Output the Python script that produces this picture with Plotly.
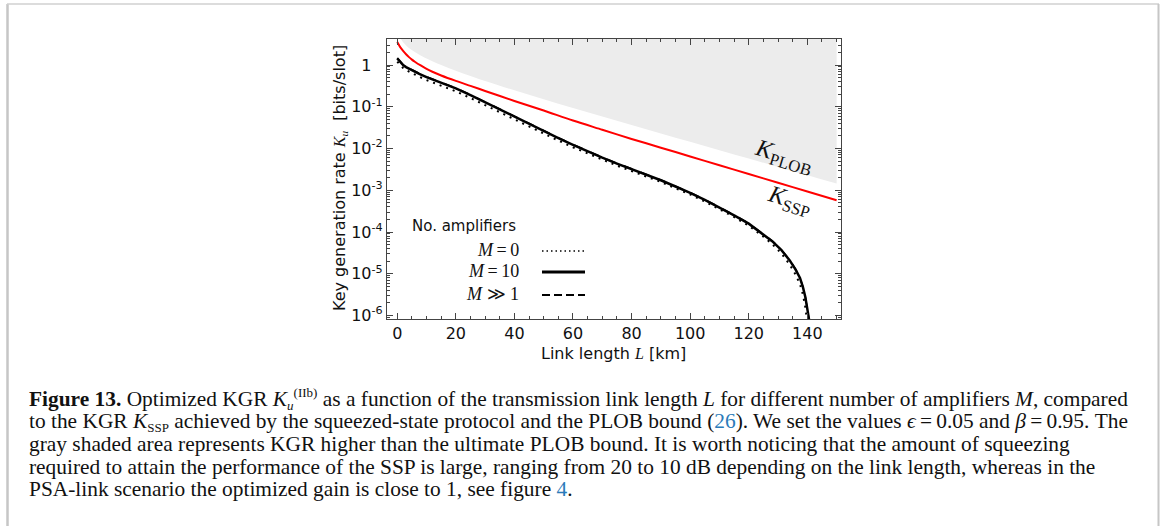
import plotly.graph_objects as go

# ---------------- data ----------------
# Link length grid for K_SSP (km) and log10 of K_SSP
L_ssp = [0, 1, 2, 3, 4, 5, 6, 8, 10, 12, 15, 20, 25, 30, 40, 50, 60, 70, 80, 90, 100, 110, 120, 130, 140, 150]
ssp_log10 = [0.55, 0.43, 0.34, 0.26, 0.19, 0.13, 0.08, -0.01, -0.09, -0.16, -0.25, -0.38, -0.50, -0.62,
             -0.86, -1.09, -1.33, -1.55, -1.77, -1.98, -2.19, -2.40, -2.61, -2.82, -3.03, -3.24]

# PLOB bound (lower edge of the gray shaded region)
L_plob = [1.3, 2, 3, 4, 6, 8, 10, 15, 20, 25, 30, 40, 50, 60, 70, 80, 90, 100, 110, 120, 130, 140, 150]
plob_log10 = [0.62, 0.545, 0.47, 0.41, 0.312, 0.23, 0.158, 0.001, -0.135, -0.261, -0.38, -0.605, -0.818,
              -1.027, -1.232, -1.436, -1.637, -1.839, -2.04, -2.24, -2.44, -2.64, -2.84]

# M = 10 (solid)
L_m10 = [0, 1, 2, 3, 5, 7.5, 10, 15, 20, 25, 30, 35, 40, 45, 50, 55, 60, 65, 70, 75, 80, 85, 90,
         95, 100, 105, 110, 115, 120, 125, 128, 131, 134, 136, 137.5, 138.5, 139.3, 139.9, 140.3, 140.6]
m10_log10 = [0.16, 0.07, 0.00, -0.05, -0.13, -0.21, -0.29, -0.42, -0.56, -0.72, -0.89, -1.06, -1.24,
             -1.42, -1.59, -1.75, -1.91, -2.07, -2.22, -2.36, -2.49, -2.63, -2.76, -2.91, -3.06, -3.23,
             -3.41, -3.60, -3.80, -4.05, -4.22, -4.42, -4.68, -4.90, -5.10, -5.32, -5.55, -5.80, -5.98, -6.10]

# M = 0 (dotted)
L_m0 = [0, 1, 2, 3, 5, 7.5, 10, 15, 20, 25, 30, 35, 40, 45, 50, 55, 60, 65, 70, 75, 80, 85, 90,
        95, 100, 105, 110, 115, 120, 125, 128, 131, 134, 136, 137.5, 138.5, 139.2, 139.7, 140.0]
m0_log10 = [0.08, 0.00, -0.07, -0.12, -0.20, -0.28, -0.36, -0.49, -0.63, -0.79, -0.96, -1.13, -1.31,
            -1.48, -1.65, -1.81, -1.97, -2.12, -2.27, -2.41, -2.54, -2.67, -2.80, -2.95, -3.10, -3.27,
            -3.45, -3.64, -3.85, -4.11, -4.29, -4.50, -4.78, -5.02, -5.25, -5.50, -5.75, -6.00, -6.15]

# M >> 1 (dashed)
L_minf = [0, 1, 2, 3, 5, 7.5, 10, 15, 20, 25, 30, 35, 40, 45, 50, 55, 60, 65, 70, 75, 80, 85, 90,
          95, 100, 105, 110, 115, 120, 125, 128, 131, 134, 136, 137.5, 138.5, 139.3, 139.9, 140.3, 140.6]
minf_log10 = [0.17, 0.08, 0.01, -0.04, -0.12, -0.20, -0.28, -0.41, -0.55, -0.71, -0.88, -1.05, -1.23,
              -1.41, -1.58, -1.74, -1.90, -2.06, -2.21, -2.35, -2.48, -2.62, -2.75, -2.90, -3.05, -3.22,
              -3.40, -3.59, -3.79, -4.04, -4.21, -4.41, -4.67, -4.89, -5.09, -5.31, -5.54, -5.79, -5.97, -6.10]

x_tickvals = [0, 20, 40, 60, 80, 100, 120, 140]
y_tickvals = [1e-6, 1e-5, 1e-4, 1e-3, 1e-2, 1e-1, 1]
y_ticktext = ["10<sup>-6</sup>", "10<sup>-5</sup>", "10<sup>-4</sup>", "10<sup>-3</sup>",
              "10<sup>-2</sup>", "10<sup>-1</sup>", "1\u2002\u2009"]
legend_title = "No. amplifiers"
legend_labels = ["<i>M</i>\u2009=\u20090", "<i>M</i>\u2009=\u200910", "<i>M</i> \u226b 1"]
legend_dashes = ["1.5px,3px", "solid", "8px,4px"]
legend_widths = [1.5, 3, 2]

SM = "<span style='font-size:13px'>"
caption_lines = [
    "<b>Figure 13.</b> Optimized KGR <i>K</i><sub>" + SM + "<i>u</i></span></sub><sup>" + SM + "(IIb)</span></sup> as a function of the transmission link length <i>L</i> for different number of amplifiers <i>M</i>, compared",
    "to the KGR <i>K</i><sub>" + SM + "SSP</span></sub> achieved by the squeezed-state protocol and the PLOB bound (<span style='color:#2b7bb9'>26</span>). We set the values <i>\u03f5</i>\u2009=\u20090.05 and <i>\u03b2</i>\u2009=\u20090.95. The",
    "gray shaded area represents KGR higher than the ultimate PLOB bound. It is worth noticing that the amount of squeezing",
    "required to attain the performance of the SSP is large, ranging from 20 to 10 dB depending on the link length, whereas in the",
    "PSA-link scenario the optimized gain is close to 1, see figure <span style='color:#2b7bb9'>4</span>.",
]

# ---------------- geometry helpers ----------------
W, H = 1167, 526
PL, PR, PT, PB = 387, 841, 39, 319
Y_RANGE = [-6.084, 0.624]


def px(x):
    return (x - PL) / (PR - PL)


def py(y):
    return (PB - y) / (PB - PT)


def lin(v):
    return [10 ** a for a in v]


SANS = "DejaVu Sans"
SERIF = "Liberation Serif"

fig = go.Figure()

# gray shaded region above PLOB bound (on the main y axis)
fig.add_trace(go.Scatter(x=L_plob, y=[10.0] * len(L_plob), mode="lines", yaxis="y",
                         line=dict(width=0, color="rgba(0,0,0,0)"), showlegend=False, hoverinfo="skip"))
fig.add_trace(go.Scatter(x=L_plob, y=lin(plob_log10), mode="lines", fill="tonexty", yaxis="y",
                         fillcolor="#ececec", line=dict(width=0, color="rgba(0,0,0,0)", shape="spline"),
                         showlegend=False, hoverinfo="skip"))

# K_SSP
fig.add_trace(go.Scatter(x=L_ssp, y=lin(ssp_log10), mode="lines", yaxis="y2",
                         line=dict(color="#ff0000", width=2, shape="spline", smoothing=0.8), showlegend=False))
# M = 0 dotted
fig.add_trace(go.Scatter(x=L_m0, y=lin(m0_log10), mode="lines", yaxis="y2",
                         line=dict(color="black", width=2, dash="2px,5px"), showlegend=False))
# M >> 1 dashed
fig.add_trace(go.Scatter(x=L_minf, y=lin(minf_log10), mode="lines", yaxis="y2",
                         line=dict(color="black", width=1.5, dash="dash"), showlegend=False))
# M = 10 solid
fig.add_trace(go.Scatter(x=L_m10, y=lin(m10_log10), mode="lines", yaxis="y2",
                         line=dict(color="black", width=2.5), showlegend=False))

axis_color = "#444444"
minor_y = [m * 10 ** e for e in range(-7, 1) for m in range(2, 10)]

fig.update_layout(
    xaxis=dict(range=[-3.5, 151.5], tickvals=x_tickvals, ticks="inside", ticklen=6, tickwidth=1,
               tickcolor=axis_color, showline=True, linecolor=axis_color, linewidth=1.2,
               mirror="ticks", showgrid=False, zeroline=False,
               tickfont=dict(family=SANS, size=16, color="#111"),
               minor=dict(dtick=5, tick0=0, ticks="inside", ticklen=3, tickcolor=axis_color, showgrid=False)),
    # label axis (no ticks, labels close to the spine)
    yaxis=dict(type="log", range=Y_RANGE, tickvals=y_tickvals, ticktext=y_ticktext, ticks="",
               showline=True, linecolor=axis_color, linewidth=1.2, mirror=True, showgrid=False,
               zeroline=False, tickfont=dict(family=SANS, size=16, color="#111"), ticklabelstandoff=0),
    # tick axis (inside major + minor ticks, mirrored)
    yaxis2=dict(type="log", range=Y_RANGE, overlaying="y", side="left", tickvals=y_tickvals,
                showticklabels=False, ticks="inside", ticklen=6, tickwidth=1, tickcolor=axis_color,
                showline=False, mirror="ticks", showgrid=False, zeroline=False,
                minor=dict(tickvals=minor_y, ticks="inside", ticklen=3, tickcolor=axis_color, showgrid=False)),
)

annotations = []
shapes = []

# axis titles
annotations.append(dict(xref="paper", yref="paper", x=px(613), y=py(353), showarrow=False,
                        text="Link length <span style='font-family:Liberation Serif'><i>L</i></span> [km]",
                        font=dict(family=SANS, size=16, color="#111"), xanchor="center", yanchor="middle"))
annotations.append(dict(xref="paper", yref="paper", x=px(340), y=py(178), showarrow=False, textangle=-90,
                        text="Key generation rate <span style='font-family:Liberation Serif'><i>K<sub>u</sub></i></span>  [bits/slot]",
                        font=dict(family=SANS, size=16, color="#111"), xanchor="center", yanchor="middle"))

# curve labels
annotations.append(dict(xref="paper", yref="paper", x=px(784), y=py(157), showarrow=False, textangle=17,
                        text="<i>K</i><sub>PLOB</sub>", font=dict(family=SERIF, size=24, color="#111"),
                        xanchor="center", yanchor="middle"))
annotations.append(dict(xref="paper", yref="paper", x=px(789), y=py(201), showarrow=False, textangle=17,
                        text="<i>K</i><sub>SSP</sub>", font=dict(family=SERIF, size=24, color="#111"),
                        xanchor="center", yanchor="middle"))

# legend block
annotations.append(dict(xref="paper", yref="paper", x=px(410), y=py(226), showarrow=False,
                        text=legend_title, font=dict(family=SANS, size=15, color="#111"),
                        xanchor="left", yanchor="middle"))
legend_rows_y = [250, 271, 294]
for lab, dsh, wd, yy in zip(legend_labels, legend_dashes, legend_widths, legend_rows_y):
    annotations.append(dict(xref="paper", yref="paper", x=px(521), y=py(yy), showarrow=False,
                            text=lab, font=dict(family=SERIF, size=18, color="#111"),
                            xanchor="right", yanchor="middle"))
    shapes.append(dict(type="line", xref="paper", yref="paper", x0=px(542), x1=px(585),
                       y0=py(yy + 1), y1=py(yy + 1), line=dict(color="black", width=wd, dash=dsh)))

# caption
cap_y = [399, 421.5, 444, 466.5, 489]
for t, yy in zip(caption_lines, cap_y):
    annotations.append(dict(xref="paper", yref="paper", x=px(27), y=py(yy), showarrow=False, text=t,
                            font=dict(family=SERIF, size=21.4, color="#111"),
                            xanchor="left", yanchor="middle", align="left"))

# outer frame
frame_col = "#c6c6c6"
shapes.append(dict(type="line", xref="paper", yref="paper", x0=px(7.5), x1=px(7.5), y0=py(4), y1=py(540),
                   line=dict(color=frame_col, width=2.5)))
shapes.append(dict(type="line", xref="paper", yref="paper", x0=px(7), x1=px(1159), y0=py(4), y1=py(4),
                   line=dict(color="#d0d0d0", width=1.5)))
shapes.append(dict(type="line", xref="paper", yref="paper", x0=px(1158.5), x1=px(1158.5), y0=py(4), y1=py(540),
                   line=dict(color=frame_col, width=2)))

fig.update_layout(width=W, height=H, autosize=False,
                  margin=dict(l=PL, r=W - PR, t=PT, b=H - PB, pad=0),
                  plot_bgcolor="white", paper_bgcolor="white", showlegend=False,
                  annotations=annotations, shapes=shapes)

fig.write_html("out.html")
